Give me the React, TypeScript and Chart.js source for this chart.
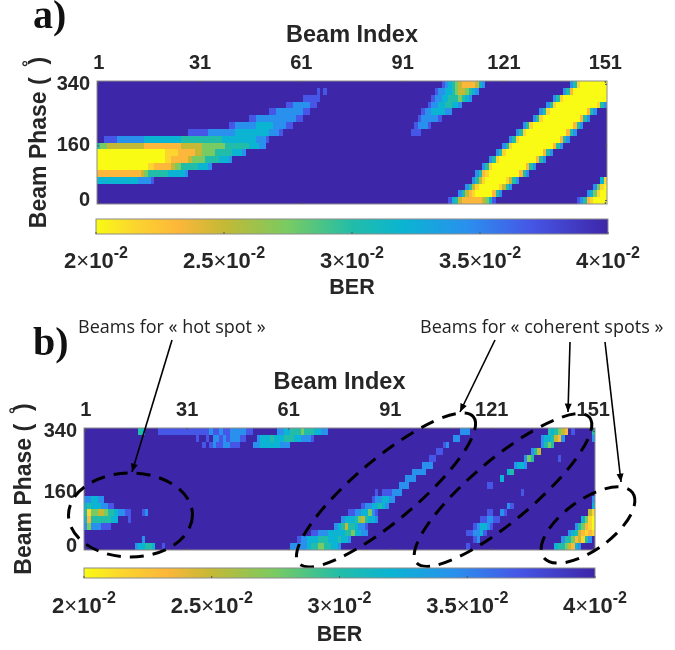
import React, { useEffect, useRef } from "react";
import { Chart, registerables } from "chart.js";

Chart.register(...registerables);

type Run = [number, string];

const beamTicks = [1, 31, 61, 91, 121, 151];
const phaseTicks = [0, 160, 340];
const colorbarTicks = [0.02, 0.025, 0.03, 0.035, 0.04];
const colorbarLabels = ["2", "2.5", "3", "3.5", "4"];
const phases = [340, 320, 300, 280, 260, 240, 220, 200, 180, 160, 140, 120, 100, 80, 60, 40, 20, 0];

// BER level of each digit used in the rows below (0 = 2e-2, 9 = 4e-2)
const levelBER = [0.02, 0.0215, 0.0232, 0.025, 0.0275, 0.03, 0.032, 0.0345, 0.037, 0.04];
const levelColors = ["#f9fb15", "#fcd52e", "#fdb73a", "#c4b935", "#78cb62", "#22bda8", "#0ab4d2", "#2a90ee", "#4656e6", "#3e26a8"];

// rows run from phase 340 down to phase 0: [first beam, digit per beam]
const panelARows: Run[][] = [
  [[103, "8765432222367"], [141, "75100000000"]],
  [[66, "898"], [101, "8776654334567"], [139, "7520000000000"]],
  [[62, "88888"], [100, "877665554567"], [136, "7510000000000000"]],
  [[57, "887777788"], [99, "8776655667"], [134, "751000000000000157"]],
  [[52, "887777777788"], [97, "877666677"], [132, "75100000000000257"]],
  [[46, "8877777777777788"], [96, "8777778"], [130, "75100000000000257"]],
  [[40, "8877777766666777788"], [95, "87778"], [127, "751000000000000257"]],
  [[28, "8888887777777766666666667778"], [93, "9888"], [125, "751000000000000257"]],
  [[3, "8888777777776666666666655555555555566666666667778"], [123, "751000000000000257"]],
  [[1, "54433333333333222222222223333334444444555555566677"], [121, "751000000000000257"]],
  [[1, "00000000000000000000111122222334444555556667"], [119, "75100000000000257"]],
  [[1, "0000000000000000000011222223444455556667"], [117, "75100000000000257"]],
  [[1, "0000000000000001122222344555556667"], [115, "7510000000000257"]],
  [[1, "222222222222234555555666667"], [113, "7521000000000257"]],
  [[1, "66666666666677778"], [112, "75310000001357"], [150, "61"]],
  [[110, "75310000001357"], [148, "7410"]],
  [[108, "7532100000257"], [146, "764100"]],
  [[105, "86532222223468"], [143, "875210000"]],
];

const panelBRows: Run[][] = [
  [[17, "56"], [23, "8888888888888"], [36, "887887887777788"], [58, "776655545556677"], [112, "777"], [138, "565432"], [145, "8"], [151, "5"]],
  [[29, "9999"], [34, "8"], [37, "8"], [39, "7787877788"], [52, "76665666555667778"], [110, "77"], [136, "7665327"], [151, "7"]],
  [[36, "8"], [38, "878877888"], [51, "77666666777"], [107, "87"], [136, "7545"]],
  [[105, "88"], [133, "753"]],
  [[103, "88"], [131, "745"], [141, "8"]],
  [[101, "777"], [128, "7667"]],
  [[98, "7777"], [126, "65"]],
  [[96, "777"], [124, "6"]],
  [[94, "777"], [120, "88"]],
  [[87, "8"], [89, "888"], [92, "777"], [130, "8"]],
  [[1, "776677"], [86, "8776677"], [128, "9"], [151, "7"]],
  [[1, "656667788"], [83, "87766567"], [126, "78"], [151, "6"]],
  [[1, "51443345567788"], [18, "87"], [79, "887766478"], [120, "88"], [124, "78"], [150, "31"]],
  [[1, "6255555566"], [14, "8"], [19, "9"], [77, "76665435667"], [118, "887788"], [148, "6410"]],
  [[1, "74777888"], [75, "7653556778"], [116, "876678"], [146, "754210"]],
  [[68, "88777666665546677"], [114, "887768"], [144, "76532121"]],
  [[18, "7"], [64, "8776665556665667"], [112, "9"], [116, "87"], [142, "755423157"]],
  [[16, "766556"], [24, "8"], [62, "777776554455667"], [114, "8"], [140, "65543267"]],
];

function colorFor(v: number): string {
  const i = levelBER.findIndex((b) => Math.abs(b - v) < 1e-9);
  return levelColors[i < 0 ? levelColors.length - 1 : i];
}

function cellsFrom(rows: Run[][]) {
  const cells: { x: number; y: number; v: number }[] = [];
  rows.forEach((runs, k) => {
    const values = new Array(152).fill(levelBER[9]);
    runs.forEach(([start, digits]) => {
      [...digits].forEach((d, i) => {
        if (start + i <= 151) values[start + i] = levelBER[Number(d)];
      });
    });
    for (let b = 1; b <= 151; b++) cells.push({ x: b, y: phases[k], v: values[b] });
  });
  return cells;
}

const FONT = "'Liberation Sans', Arial, sans-serif";
const TEXT = "#262626";

const cellPlugin = {
  id: "cells",
  beforeDatasetsDraw(chart: any) {
    const { ctx, scales } = chart;
    const { x, y } = scales;
    ctx.save();
    chart.data.datasets[0].data.forEach((c: any) => {
      const x0 = Math.round(x.getPixelForValue(c.x - 0.5));
      const x1 = Math.round(x.getPixelForValue(c.x + 0.5));
      const y0 = Math.round(y.getPixelForValue(c.y + 10));
      const y1 = Math.round(y.getPixelForValue(c.y - 10));
      ctx.fillStyle = colorFor(c.v);
      ctx.fillRect(x0, y0, x1 - x0, y1 - y0);
    });
    ctx.restore();
  },
  afterDatasetsDraw(chart: any) {
    const { ctx, chartArea: a, scales } = chart;
    ctx.save();
    ctx.strokeStyle = "#8c8c8c";
    ctx.lineWidth = 1;
    ctx.strokeRect(a.left, a.top, a.right - a.left, a.bottom - a.top);
    ctx.strokeStyle = "#555";
    ctx.beginPath();
    beamTicks.forEach((b) => {
      const px = scales.x.getPixelForValue(b);
      ctx.moveTo(px, a.top);
      ctx.lineTo(px, a.top + 2);
      ctx.moveTo(px, a.bottom);
      ctx.lineTo(px, a.bottom - 2);
    });
    phaseTicks.forEach((p) => {
      const py = scales.y.getPixelForValue(p);
      ctx.moveTo(a.left, py);
      ctx.lineTo(a.left + 2, py);
      ctx.moveTo(a.right, py);
      ctx.lineTo(a.right - 2, py);
    });
    ctx.stroke();
    ctx.restore();
  },
};

function heatConfig(rows: Run[][], o: any, extra: any[]) {
  return {
    type: "scatter",
    data: {
      datasets: [{ label: "BER", data: cellsFrom(rows), pointRadius: 0, pointHoverRadius: 0, showLine: false }],
    },
    plugins: [cellPlugin, ...extra],
    options: {
      animation: false,
      responsive: false,
      devicePixelRatio: 1,
      events: [],
      layout: { padding: { left: 0, top: 0, right: o.right, bottom: o.bottom } },
      plugins: { legend: { display: false }, tooltip: { enabled: false } },
      scales: {
        x: {
          type: "linear",
          position: "top",
          min: 0.5,
          max: 151.5,
          afterBuildTicks(s: any) {
            s.ticks = beamTicks.map((value) => ({ value }));
          },
          afterFit(s: any) {
            s.height = o.axisH;
          },
          grid: { display: false, drawTicks: false },
          border: { display: false },
          ticks: { color: TEXT, padding: o.xPad, maxRotation: 0, autoSkip: false, font: { family: FONT, weight: "bold", size: 20 } },
          title: { display: true, text: "Beam Index", color: TEXT, padding: { top: o.titleTop, bottom: 0 }, font: { family: FONT, weight: "bold", size: 23.5 } },
        },
        y: {
          type: "linear",
          min: -10,
          max: 350,
          afterBuildTicks(s: any) {
            s.ticks = phaseTicks.map((value) => ({ value }));
          },
          afterFit(s: any) {
            s.width = o.axisW;
          },
          grid: { display: false, drawTicks: false },
          border: { display: false },
          ticks: { color: TEXT, padding: 7, autoSkip: false, font: { family: FONT, weight: "bold", size: 20 } },
          title: { display: true, text: "Beam Phase (  )", color: TEXT, padding: { top: o.yTitleTop, bottom: 0 }, font: { family: FONT, weight: "bold", size: 23 } },
        },
      },
    },
  } as any;
}

const colorbarTickPlugin = {
  id: "colorbarTicks",
  afterDraw(chart: any) {
    const { ctx, chartArea: a, scales } = chart;
    const baseY = chart.options.labelY;
    ctx.save();
    ctx.strokeStyle = "#8c8c8c";
    ctx.strokeRect(a.left, a.top, a.right - a.left, a.bottom - a.top);
    ctx.fillStyle = TEXT;
    ctx.textBaseline = "middle";
    colorbarTicks.forEach((t, i) => {
      const px = scales.x.getPixelForValue(t);
      ctx.strokeStyle = "#555";
      ctx.beginPath();
      ctx.moveTo(px, a.bottom);
      ctx.lineTo(px, a.bottom - 2);
      ctx.stroke();
      const bold = `bold 22px ${FONT}`;
      const thin = `22px ${FONT}`;
      const sup = `bold 16px ${FONT}`;
      const parts: [string, string, number][] = [
        [colorbarLabels[i], bold, 0],
        ["×", thin, 0],
        ["10", bold, 0],
        ["-2", sup, -8],
      ];
      let w = 0;
      parts.forEach(([s, f]) => {
        ctx.font = f;
        w += ctx.measureText(s).width;
      });
      let cx = px - w / 2;
      ctx.textAlign = "left";
      parts.forEach(([s, f, dy]) => {
        ctx.font = f;
        ctx.fillText(s, cx, baseY + dy);
        cx += ctx.measureText(s).width;
      });
    });
    ctx.restore();
  },
};

function colorbarConfig(o: any) {
  return {
    type: "bar",
    data: {
      labels: ["BER"],
      datasets: [
        {
          data: [[colorbarTicks[0], colorbarTicks[4]]],
          barPercentage: 1,
          categoryPercentage: 1,
          backgroundColor(c: any) {
            const a = c.chart.chartArea;
            if (!a) return levelColors[0];
            const g = c.chart.ctx.createLinearGradient(a.left, 0, a.right, 0);
            levelBER.forEach((v, i) => g.addColorStop((v - levelBER[0]) / (levelBER[9] - levelBER[0]), levelColors[i]));
            return g;
          },
        },
      ],
    },
    plugins: [colorbarTickPlugin],
    options: {
      indexAxis: "y",
      animation: false,
      responsive: false,
      devicePixelRatio: 1,
      events: [],
      labelY: o.labelY,
      layout: { padding: { left: o.left, right: o.right, top: o.top, bottom: 0 } },
      plugins: { legend: { display: false }, tooltip: { enabled: false } },
      scales: {
        x: {
          type: "linear",
          min: colorbarTicks[0],
          max: colorbarTicks[4],
          afterFit(s: any) {
            s.height = o.axisH;
          },
          grid: { display: false, drawTicks: false },
          border: { display: false },
          ticks: { display: false },
          title: { display: true, text: "BER", color: TEXT, padding: { top: 0, bottom: o.titleBottom }, font: { family: FONT, weight: "bold", size: 21.5 } },
        },
        y: { display: false },
      },
    },
  } as any;
}

const degreePlugin = (x: number, y: number) => ({
  id: "degree",
  afterDraw(chart: any) {
    const { ctx } = chart;
    ctx.save();
    ctx.font = `bold 17px ${FONT}`;
    ctx.fillStyle = TEXT;
    ctx.textAlign = "center";
    ctx.textBaseline = "middle";
    ctx.fillText("°", x, y);
    ctx.restore();
  },
});

const labelPlugin = (text: string, x: number, y: number) => ({
  id: "panelLabel" + text,
  afterDraw(chart: any) {
    const { ctx } = chart;
    ctx.save();
    ctx.font = "bold 40px 'Liberation Serif', serif";
    ctx.fillStyle = "#111";
    ctx.textAlign = "left";
    ctx.textBaseline = "alphabetic";
    ctx.fillText(text, x, y);
    ctx.restore();
  },
});

const BTOP = 305;
const ellipses = [
  [130.5, 515, 62, 42, 0],
  [386, 490, 114, 31, -40],
  [503, 490, 113, 31, -40],
  [588, 525, 55, 25, -36],
];
const arrows = [
  [172, 340, 132, 472],
  [495, 340, 460, 412],
  [570, 342, 568, 412],
  [605, 342, 621, 482],
];
const annotationTexts: [string, number, number][] = [
  ["Beams for « hot spot »", 78, 328],
  ["Beams for « coherent spots »", 420, 328],
];

const annotationPlugin = {
  id: "annotations",
  afterDraw(chart: any) {
    const { ctx } = chart;
    ctx.save();
    ctx.translate(0, -BTOP);
    ctx.strokeStyle = "#000";
    ctx.lineWidth = 3;
    ctx.setLineDash([14, 9]);
    ellipses.forEach(([cx, cy, rx, ry, deg]) => {
      ctx.beginPath();
      ctx.ellipse(cx, cy, rx, ry, (deg * Math.PI) / 180, 0, Math.PI * 2);
      ctx.stroke();
    });
    ctx.setLineDash([]);
    ctx.lineWidth = 1.6;
    ctx.fillStyle = "#000";
    arrows.forEach(([x0, y0, x1, y1]) => {
      const ang = Math.atan2(y1 - y0, x1 - x0);
      ctx.beginPath();
      ctx.moveTo(x0, y0);
      ctx.lineTo(x1, y1);
      ctx.stroke();
      ctx.beginPath();
      ctx.moveTo(x1, y1);
      ctx.lineTo(x1 - 9 * Math.cos(ang - 0.4), y1 - 9 * Math.sin(ang - 0.4));
      ctx.lineTo(x1 - 9 * Math.cos(ang + 0.4), y1 - 9 * Math.sin(ang + 0.4));
      ctx.closePath();
      ctx.fill();
    });
    ctx.font = "18px 'Open Sans', sans-serif";
    ctx.fillStyle = "#222";
    ctx.textAlign = "left";
    ctx.textBaseline = "middle";
    annotationTexts.forEach(([t, x, y]) => ctx.fillText(t, x, y));
    ctx.restore();
  },
};

export default function App() {
  const heatA = useRef<HTMLCanvasElement>(null);
  const barA = useRef<HTMLCanvasElement>(null);
  const heatB = useRef<HTMLCanvasElement>(null);
  const barB = useRef<HTMLCanvasElement>(null);

  useEffect(() => {
    const charts = [
      new Chart(
        heatA.current!,
        heatConfig(panelARows, { right: 68, bottom: 36, axisH: 81, axisW: 97, xPad: 6, titleTop: 21, yTitleTop: 26 }, [
          degreePlugin(25, 68),
          labelPlugin("a)", 33, 28),
        ])
      ),
      new Chart(barA.current!, colorbarConfig({ left: 96, right: 67, top: 4, axisH: 71, titleBottom: 4, labelY: 47 })),
      new Chart(
        heatB.current!,
        heatConfig(
          panelBRows,
          { right: 80, bottom: 40, axisH: 123, axisW: 84, xPad: 6, titleTop: 63, yTitleTop: 11 },
          [degreePlugin(12, 415 - BTOP), labelPlugin("b)", 33, 355 - BTOP), annotationPlugin]
        )
      ),
      new Chart(barB.current!, colorbarConfig({ left: 84, right: 80, top: 3, axisH: 72, titleBottom: 2, labelY: 42 })),
    ];
    return () => charts.forEach((c) => c.destroy());
  }, []);

  const style = (top: number): React.CSSProperties => ({ position: "absolute", left: 0, top, display: "block" });

  return (
    <div style={{ position: "absolute", left: 0, top: 0, width: 675, height: 650, background: "#fff", overflow: "hidden", filter: "blur(0.45px)" }}>
      <canvas ref={heatA} width={675} height={240} style={style(0)} />
      <canvas ref={barA} width={675} height={90} style={style(215)} />
      <canvas ref={heatB} width={675} height={285} style={style(BTOP)} />
      <canvas ref={barB} width={675} height={85} style={style(565)} />
    </div>
  );
}
